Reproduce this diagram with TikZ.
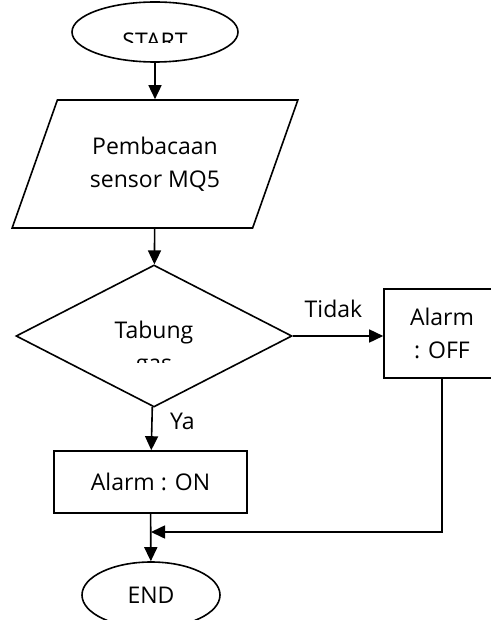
\documentclass[tikz,border=0pt]{standalone}
\usepackage{fontspec}
\setmainfont{Open Sans}
\usetikzlibrary{arrows.meta,shapes.geometric,positioning}

\begin{document}
\begin{tikzpicture}[
		x=1pt,y=-1pt,
		>={Triangle[length=14pt,width=13pt]},
		line width=1.6pt,
		every node/.style={font=\fontsize{23}{33}\selectfont},
		terminal/.style={draw,ellipse,inner sep=0pt},
		process/.style={draw,rectangle,inner sep=0pt,align=center},
		inout/.style={draw,trapezium,trapezium left angle=61,trapezium right angle=119,
			trapezium stretches=true,inner sep=0pt,align=center},
		decision/.style={draw,diamond,inner sep=0pt,aspect=2},
		word/.style={inner sep=0pt,align=center}
		]
		\useasboundingbox (0,0) rectangle (490,620);
		
		% =========================
		% shapes
		% =========================
		\node[terminal, minimum width=166pt, minimum height=60pt] (start) at (155,32) {};
		\begin{scope}
			\clip (0,0) rectangle (490,43);
			\node[word] (starttxt) at (155,41) {START};
		\end{scope}
		
		\node[inout, minimum width=286pt, minimum height=128pt] (read) at (155,164)
		{Pembacaan\\sensor MQ5};
		
		\node[decision, minimum width=276pt, minimum height=142pt] (cond) at (154,336) {};
		\begin{scope}
			\clip (0,0) rectangle (490,362);
			\node[word] (condtxt) at (154,349) {Tabung\\gas};
		\end{scope}
		
		\node[process, minimum width=116pt, minimum height=89pt] (off) at (442,333.5)
		{Alarm\\: OFF};
		
		\node[process, minimum width=193pt, minimum height=62pt] (on) at (150.5,482)
		{Alarm : ON};
		
		\node[terminal, minimum width=138pt, minimum height=66pt] (end) at (151,595) {END};
		
		% =========================
		% connectors
		% =========================
		\draw[->] (start) -- (read);
		\draw[->] (read) -- (cond);
		\draw[->] (cond.east) -- node[above=14pt, pos=0.45] (tidak) {Tidak} (cond.east -| off.west);
		\draw[->] (cond) -- node[right=14pt, pos=0.33] (ya) {Ya} (on);
		\draw[->] (on) -- (end);
		
		\coordinate (merge) at (end.north |- 0,532);
		\draw[->] (off) |- (merge);
		
	\end{tikzpicture}
\end{document}
